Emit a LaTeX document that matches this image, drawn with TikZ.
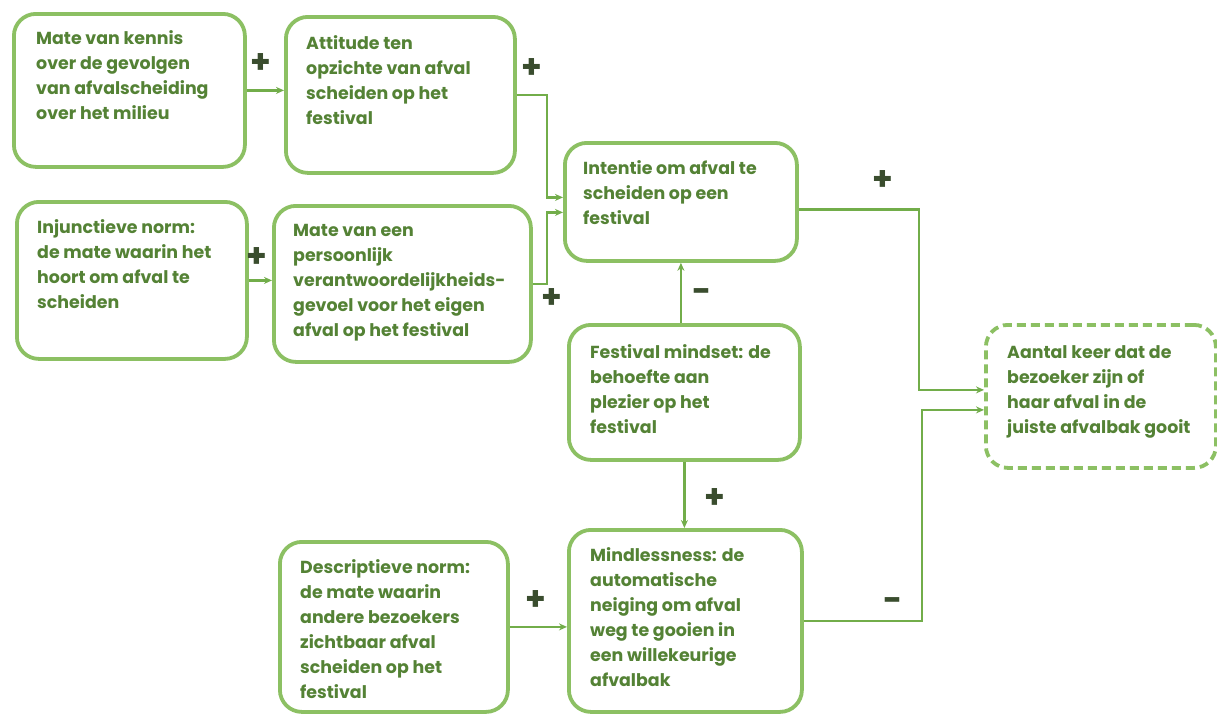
\documentclass[tikz,border=0pt]{standalone}
\usepackage{fontspec}
\setmainfont{Poppins}
\usetikzlibrary{arrows.meta,calc}
\definecolor{bordc}{HTML}{8CC063}
\definecolor{linec}{HTML}{72AD4A}
\definecolor{txtc}{HTML}{548235}
\definecolor{signc}{HTML}{3A4D2E}
\begin{document}
\begin{tikzpicture}[x=1pt,y=-1pt,
  box/.style={draw=bordc, line width=3.8pt, rounded corners=22pt, fill=white, inner sep=0pt, anchor=north west},
  dbox/.style={box, dash pattern=on 9pt off 5pt},
  txt/.style={anchor=north west, inner sep=0pt, align=left, text=txtc, font=\bfseries\fontsize{17.4}{25}\selectfont},
  arr/.style={draw=linec, line width=2.2pt, -{Stealth[length=8pt,width=7pt]}},
  sign/.style={text=signc, font=\bfseries\fontsize{33}{33}\selectfont, inner sep=0pt}
]
\useasboundingbox[fill=white] (0,0) rectangle (1217,716);

% boxes
\node[box, minimum width=231pt, minimum height=153pt] (A) at (12,12) {};
\node[box, minimum width=229pt, minimum height=156pt] (B) at (284,15) {};
\node[box, minimum width=232pt, minimum height=118pt] (C) at (563,141) {};
\node[box, minimum width=230pt, minimum height=157pt] (D) at (15,200) {};
\node[box, minimum width=257pt, minimum height=156pt] (E) at (272,204) {};
\node[box, minimum width=231pt, minimum height=135pt] (F) at (567,323) {};
\node[dbox, minimum width=230pt, minimum height=143pt] (G) at (984,323) {};
\node[box, minimum width=228pt, minimum height=170pt] (H) at (278,540) {};
\node[box, minimum width=233pt, minimum height=182pt] (I) at (567,528) {};

% texts
\node[txt] (At) at ($(A.north west)+(24,18)$) {Mate van kennis\\over de gevolgen\\van afvalscheiding\\over het milieu};
\node[txt] (Bt) at ($(B.north west)+(22,20)$) {Attitude ten\\opzichte van afval\\scheiden op het\\festival};
\node[txt] (Ct) at ($(C.north west)+(20,19)$) {Intentie om afval te\\scheiden op een\\festival};
\node[txt] (Dt) at ($(D.north west)+(22,19)$) {Injunctieve norm:\\de mate waarin het\\hoort om afval te\\scheiden};
\node[txt] (Et) at ($(E.north west)+(21,20)$) {Mate van een\\persoonlijk\\verantwoordelijkheids-\\gevoel voor het eigen\\afval op het festival};
\node[txt] (Ft) at ($(F.north west)+(23,21)$) {Festival mindset: de\\behoefte aan\\plezier op het\\festival};
\node[txt] (Gt) at ($(G.north west)+(23,22)$) {Aantal keer dat de\\bezoeker zijn of\\haar afval in de\\juiste afvalbak gooit};
\node[txt] (Ht) at ($(H.north west)+(22,19)$) {Descriptieve norm:\\de mate waarin\\andere bezoekers\\zichtbaar afval\\scheiden op het\\festival};
\node[txt] (It) at ($(I.north west)+(23,19)$) {Mindlessness: de\\automatische\\neiging om afval\\weg te gooien in\\een willekeurige\\afvalbak};

% connectors
\draw[arr] (A.east) -- (A.east -| B.west);
\draw[arr] (D.east) -- (D.east -| E.west);
\draw[arr] (B.east) -- ++(30,0) |- ([yshift=4.5pt]C.west);
\draw[arr] (E.east) -- ++(14,0) |- ([yshift=-10.5pt]C.west);
\draw[arr] ([yshift=-7.5pt]C.east) -- ++(120,0) |- ([yshift=6.5pt]G.west);
\draw[arr] ([xshift=-3.5pt]F.north) -- (C.south);
\draw[arr] (F.south) -- (F.south |- I.north);
\draw[arr] (H.east) -- (H.east -| I.west);
\draw[arr] (I.east) -- ++(118,0) |- ([yshift=-13.5pt]G.west);

% signs
\node[sign] (s1) at (260.5,63.5) {+};
\node[sign] (s2) at (532,69) {+};
\node[sign] (s3) at (257,258) {+};
\node[sign] (s4) at (552,299) {+};
\node[sign] (s5) at (883,181) {+};
\node[sign] (s6) at (715,499) {+};
\node[sign] (s7) at (536,601) {+};
\node[sign] (m1) at (702,296) {-};
\node[sign] (m2) at (893,605) {-};
\end{tikzpicture}
\end{document}
